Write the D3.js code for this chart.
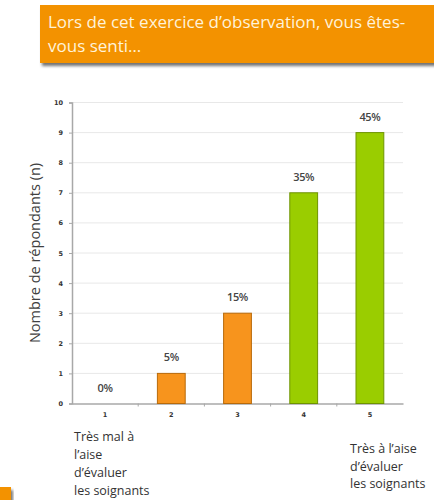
<!DOCTYPE html>
<html>
<head>
<meta charset="utf-8">
<script src="https://cdn.jsdelivr.net/npm/d3@7"></script>
<style>
  html, body { margin: 0; padding: 0; background: #fff; }
  svg { display: block; }
</style>
</head>
<body>
<svg id="chart" width="434" height="500"></svg>
<script>
// Survey answers on a 1–5 scale
const categories = ["1", "2", "3", "4", "5"];
const counts = [0, 1, 3, 7, 9];
const totalRespondents = 20;
const barColors = ["#F7941D", "#F7941D", "#F7941D", "#9ACD00", "#9ACD00"];
const barStrokes = ["#B86A0A", "#B86A0A", "#B86A0A", "#6E9400", "#6E9400"];
const yTicks = [0, 1, 2, 3, 4, 5, 6, 7, 8, 9, 10];
const titleLines = ["Lors de cet exercice d\u2019observation, vous \u00eates-", "vous senti\u2026"];
const yTitle = "Nombre de r\u00e9pondants (n)";
const leftNote = ["Tr\u00e8s mal \u00e0", "l\u2019aise", "d\u2019\u00e9valuer", "les soignants"];
const rightNote = ["Tr\u00e8s \u00e0 l\u2019aise", "d\u2019\u00e9valuer", "les soignants"];

const svg = d3.select("#chart");
const font = "Open Sans, Liberation Sans, sans-serif";

// Title banner with drop shadow
const defs = svg.append("defs");
const f = defs.append("filter").attr("id", "shadow").attr("x", "-10%").attr("y", "-20%").attr("width", "130%").attr("height", "160%");
f.append("feDropShadow").attr("dx", 2).attr("dy", 3).attr("stdDeviation", 1.5).attr("flood-color", "#000").attr("flood-opacity", 0.55);

svg.append("rect").attr("x", 40).attr("y", 5).attr("width", 400).attr("height", 58)
  .attr("fill", "#F39200").attr("filter", "url(#shadow)");
svg.append("g").selectAll("text").data(titleLines).join("text")
  .attr("x", 48).attr("y", (d, i) => 28 + i * 24)
  .attr("fill", "#FFF3DA").attr("font-family", font).attr("font-size", 17)
  .text(d => d);

// Small corner marker
svg.append("rect").attr("x", -4).attr("y", 487).attr("width", 15).attr("height", 14)
  .attr("fill", "#F39200").attr("filter", "url(#shadow)");

// Plot area
const x0 = 72, x1 = 403, yTop = 102.5, yBottom = 403.5;
const x = d3.scaleBand().domain(categories).range([x0, x1]).paddingInner(0.58).paddingOuter(0.29);
const xOuter = d3.scaleBand().domain(categories).range([x0, x1]);
const y = d3.scaleLinear().domain([0, 10]).range([yBottom, yTop]);

// Gridlines
svg.append("g").selectAll("line").data(yTicks.filter(t => t > 0)).join("line")
  .attr("x1", x0).attr("x2", x1).attr("y1", d => y(d)).attr("y2", d => y(d))
  .attr("stroke", "#E8E8E8").attr("stroke-width", 1);

// Y axis
const yAxis = svg.append("g").attr("transform", `translate(${x0},0)`)
  .call(d3.axisLeft(y).tickValues(yTicks).tickSize(3).tickPadding(6));
yAxis.select(".domain").attr("stroke", "#A8A8A8").attr("stroke-width", 1.5);
yAxis.selectAll(".tick line").attr("stroke", "#A8A8A8");
yAxis.selectAll(".tick text").attr("font-family", "DejaVu Sans, sans-serif").attr("font-size", 6.5)
  .attr("font-weight", "bold").attr("fill", "#333");

// X axis
const xAxis = svg.append("g").attr("transform", `translate(0,${yBottom})`)
  .call(d3.axisBottom(xOuter).tickSize(0).tickPadding(9));
xAxis.select(".domain").attr("stroke", "#A8A8A8").attr("stroke-width", 1.5);
xAxis.selectAll(".tick text").attr("font-family", "DejaVu Sans, sans-serif").attr("font-size", 6.5)
  .attr("font-weight", "bold").attr("fill", "#333");
// Small ticks between categories
svg.append("g").selectAll("line").data(categories.slice(1)).join("line")
  .attr("x1", d => xOuter(d)).attr("x2", d => xOuter(d))
  .attr("y1", yBottom).attr("y2", yBottom + 3)
  .attr("stroke", "#A8A8A8");

// Bars
svg.append("g").selectAll("rect").data(counts).join("rect")
  .attr("x", (d, i) => x(categories[i]))
  .attr("y", d => y(d))
  .attr("width", x.bandwidth())
  .attr("height", d => y(0) - y(d))
  .attr("fill", (d, i) => barColors[i])
  .attr("stroke", (d, i) => barStrokes[i])
  .attr("stroke-width", (d) => d > 0 ? 1 : 0);

// Percentage labels
svg.append("g").selectAll("text").data(counts).join("text")
  .attr("x", (d, i) => x(categories[i]) + x.bandwidth() / 2)
  .attr("y", d => y(d) - 12)
  .attr("text-anchor", "middle")
  .attr("font-family", font).attr("font-size", 11).attr("font-weight", "600").attr("fill", "#444")
  .attr("letter-spacing", -0.4)
  .text(d => Math.round(d / totalRespondents * 100) + "%");

// Y axis title
svg.append("text")
  .attr("transform", `translate(40,${(yTop + yBottom) / 2}) rotate(-90)`)
  .attr("text-anchor", "middle")
  .attr("font-family", font).attr("font-size", 14.5).attr("fill", "#404040")
  .text(yTitle);

// Scale end notes
svg.append("g").selectAll("text").data(leftNote).join("text")
  .attr("x", 74).attr("y", (d, i) => 441 + i * 18)
  .attr("font-family", font).attr("font-size", 12.5).attr("fill", "#333")
  .text(d => d);
svg.append("g").selectAll("text").data(rightNote).join("text")
  .attr("x", 350).attr("y", (d, i) => 453 + i * 17.5)
  .attr("font-family", font).attr("font-size", 12.5).attr("fill", "#333")
  .text(d => d);
</script>
</body>
</html>
